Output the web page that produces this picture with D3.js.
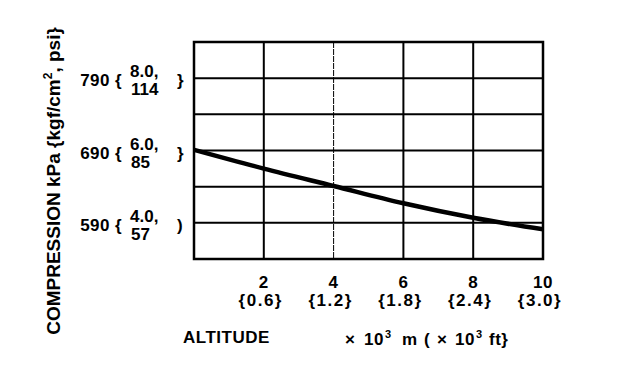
<!DOCTYPE html>
<html><head><meta charset="utf-8">
<script src="https://cdn.jsdelivr.net/npm/d3@7"></script>
<style>
body{margin:0;background:#fff;}
text{font-family:"Liberation Sans",Arial,sans-serif;font-weight:bold;fill:#000;}
</style></head>
<body><svg id="c" width="624" height="374"></svg>
<script>
const altitude = [0, 2, 4, 6, 8, 10];
const compression = [691, 665, 641, 617, 597, 581];
const xTicks = [2, 4, 6, 8, 10];
const xTickFt = ["{0.6}", "{1.2}", "{1.8}", "{2.4}", "{3.0}"];
const yTicks = [790, 690, 590];
const yTickKgf = ["8.0,", "6.0,", "4.0,"];
const yTickPsi = ["114", "85", "57"];
const yTickClose = ["}", "}", ")"];
const yGrid = [590, 640, 690, 740, 790];
const xGrid = [2, 4, 6, 8];

const svg = d3.select("#c");
const L = 194, R = 543, T = 42, B = 259;
const x = d3.scaleLinear().domain([0, 10]).range([L, R]);
const y = d3.scaleLinear().domain([540, 840]).range([B, T]);

// grid
svg.selectAll(".hg").data(yGrid).enter().append("line")
  .attr("x1", L).attr("x2", R).attr("y1", d => y(d)).attr("y2", d => y(d))
  .attr("stroke", "#000").attr("stroke-width", 2);
svg.selectAll(".vg").data(xGrid).enter().append("line")
  .attr("y1", T).attr("y2", B).attr("x1", d => x(d)).attr("x2", d => x(d))
  .attr("stroke", "#000").attr("stroke-width", d => d === 4 ? 1 : 2)
  .attr("stroke-dasharray", d => d === 4 ? "6,1" : null);

// frame
svg.append("rect").attr("x", L).attr("y", T).attr("width", R - L).attr("height", B - T)
  .attr("fill", "none").attr("stroke", "#000").attr("stroke-width", 2.5);

// curve
const line = d3.line().x((d, i) => x(altitude[i])).y(d => y(d)).curve(d3.curveMonotoneX);
svg.append("path").attr("d", line(compression)).attr("fill", "none")
  .attr("stroke", "#000").attr("stroke-width", 4.5);

// x tick labels
const xl = svg.append("g");
xTicks.forEach((t, i) => {
  xl.append("text").attr("x", x(t)).attr("y", 288).attr("text-anchor", "middle")
    .attr("font-size", 17).attr("letter-spacing", 0.5).text(t);
  xl.append("text").attr("x", x(t) - 3).attr("y", 306).attr("text-anchor", "middle")
    .attr("font-size", 17).attr("letter-spacing", 1.5).text(xTickFt[i]);
});

// y tick labels
yTicks.forEach((t, i) => {
  const yy = y(t);
  svg.append("text").attr("x", 110).attr("y", yy + 8).attr("text-anchor", "end")
    .attr("font-size", 17).attr("letter-spacing", 0.5).text(t);
  svg.append("text").attr("x", 115).attr("y", yy + 8).attr("font-size", 17).text("{");
  svg.append("text").attr("x", 130).attr("y", yy - 1).attr("font-size", 17).text(yTickKgf[i]);
  svg.append("text").attr("x", 131).attr("y", yy + 17).attr("font-size", 17).text(yTickPsi[i]);
  svg.append("text").attr("x", 177).attr("y", yy + 8).attr("font-size", 17).text(yTickClose[i]);
});

// y title
const yt = svg.append("text").attr("transform", "translate(60,181) rotate(-90)")
  .attr("text-anchor", "middle").attr("font-size", 19);
yt.append("tspan").text("COMPRESSION kPa {kgf/cm");
yt.append("tspan").attr("font-size", 12).attr("dy", -8).text("2");
yt.append("tspan").attr("dy", 8).text(", psi}");

// x titles
svg.append("text").attr("x", 183).attr("y", 343).attr("font-size", 17)
  .attr("letter-spacing", 0.5).text("ALTITUDE");
const unitParts = [
  {x: 345, t: "\u00d7", w: "normal", s: 17, dy: 0},
  {x: 364, t: "10", w: "bold", s: 17, dy: 0},
  {x: 385, t: "3", w: "bold", s: 11, dy: -7},
  {x: 402, t: "m", w: "bold", s: 17, dy: 0},
  {x: 424, t: "(", w: "bold", s: 17, dy: 0},
  {x: 437, t: "\u00d7", w: "normal", s: 17, dy: 0},
  {x: 455, t: "10", w: "bold", s: 17, dy: 0},
  {x: 476, t: "3", w: "bold", s: 11, dy: -7},
  {x: 489, t: "ft}", w: "bold", s: 17, dy: 0}
];
svg.selectAll(".unit").data(unitParts).enter().append("text")
  .attr("x", d => d.x).attr("y", d => 345 + d.dy)
  .attr("font-size", d => d.s).attr("font-weight", d => d.w)
  .attr("letter-spacing", 0.5).text(d => d.t);
</script></body></html>
